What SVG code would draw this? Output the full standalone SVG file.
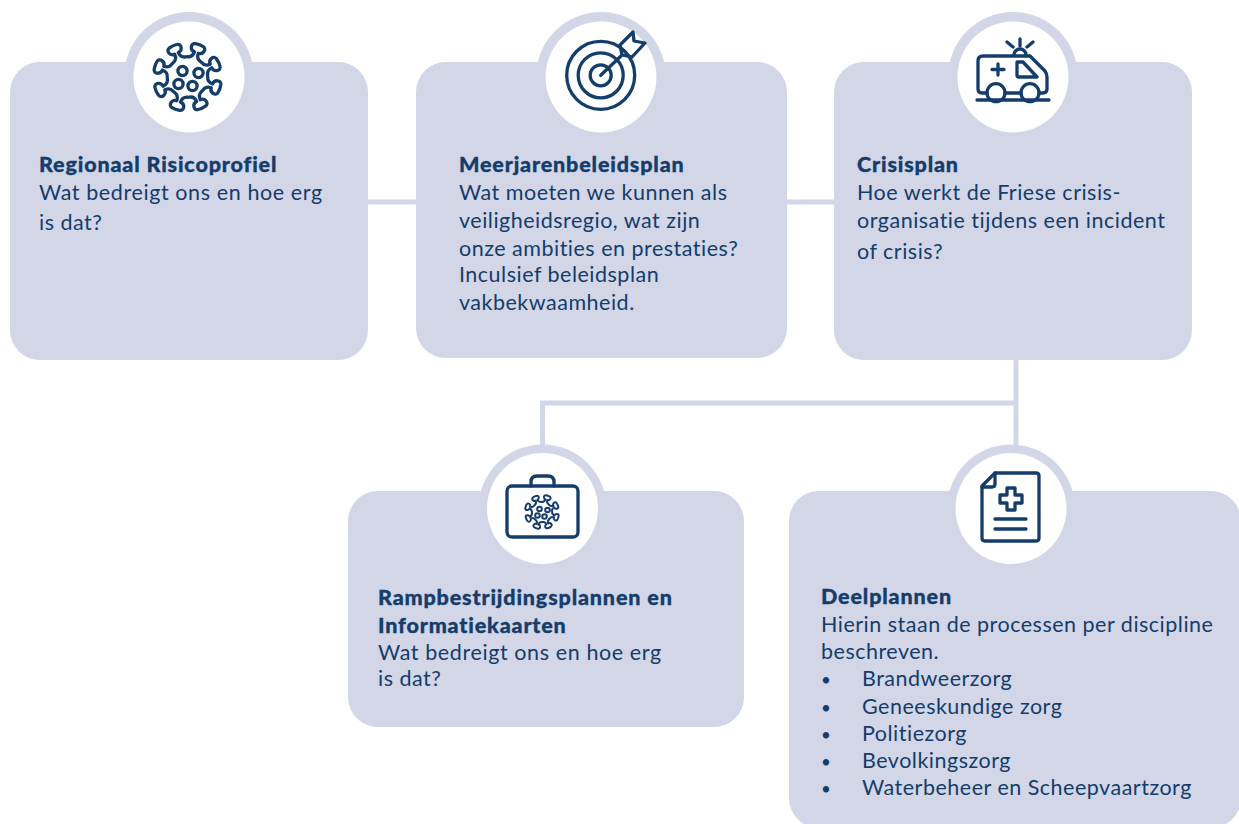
<svg xmlns="http://www.w3.org/2000/svg" xmlns:xlink="http://www.w3.org/1999/xlink" width="1239" height="824" viewBox="0 0 1239 824">
<style>
.box{fill:#d2d6e7}
.hole{fill:#fff}
.conn{fill:none;stroke:#d2d6e7;stroke-width:5}
.ic{fill:none;stroke:#143d6b;stroke-width:3.300;stroke-linecap:round;stroke-linejoin:round}
text{font-family:"Lato","Liberation Sans",sans-serif;font-size:21.5px;fill:#143d6b;letter-spacing:.5px}
.w{letter-spacing:.6px}
.h{font-weight:900;letter-spacing:.85px;stroke:#143d6b;stroke-width:.35px}
.b{font-size:17px}
</style>
<defs>
<g id="virus">
<path id="lobe" d="M-7-19C-3-20-2-23-2-26C-7-26-9-33-4-34C-1-34.500 2-34.500 4-34C9-33 7-26 2-26C2-23 3-20 7-19"/>
<use xlink:href="#lobe" href="#lobe" transform="rotate(45)"/>
<use xlink:href="#lobe" href="#lobe" transform="rotate(90)"/>
<use xlink:href="#lobe" href="#lobe" transform="rotate(135)"/>
<use xlink:href="#lobe" href="#lobe" transform="rotate(180)"/>
<use xlink:href="#lobe" href="#lobe" transform="rotate(225)"/>
<use xlink:href="#lobe" href="#lobe" transform="rotate(270)"/>
<use xlink:href="#lobe" href="#lobe" transform="rotate(315)"/>
<circle cx="-5" cy="-6" r="4.600" transform="rotate(-20)"/><circle cx="11" cy="-4" r="4.600" transform="rotate(-20)"/><circle cx="-9" cy="7" r="4.600" transform="rotate(-20)"/><circle cx="5" cy="9" r="4.600" transform="rotate(-20)"/>
</g>
</defs>
<g id="connectors">
<path class="conn" d="M368 202H834"/>
<path class="conn" d="M1016 360V450"/>
<path class="conn" d="M1016 403H542.500V450"/>
</g>
<g id="regionaal">
<rect class="box" x="10" y="62" width="358" height="298" rx="30"/>
<circle class="box" cx="189" cy="77" r="65"/>
<circle class="hole" cx="189" cy="77" r="55.500"/>
<g class="ic" transform="translate(187.500 77) rotate(20)"><use xlink:href="#virus" href="#virus"/></g>
<text class="h" x="39" y="172">Regionaal Risicoprofiel</text>
<text class="w" x="39" y="200">Wat bedreigt ons en hoe erg</text>
<text x="39" y="230">is dat?</text>
</g>
<g id="meerjaren">
<rect class="box" x="416" y="62" width="371" height="296" rx="30"/>
<circle class="box" cx="601" cy="77" r="65"/>
<circle class="hole" cx="601" cy="77" r="55.500"/>
<g class="ic">
<circle cx="600.700" cy="75.300" r="34"/><circle cx="600.700" cy="75.300" r="22.500"/><circle cx="600.700" cy="75.300" r="10.500"/>
<path d="M600.700 75.300L621 56"/>
<path d="M620 45L633 32L634 41L645 43L632 57L622 55Z"/>
</g>
<text class="h" x="459" y="172">Meerjarenbeleidsplan</text>
<text x="459" y="200">Wat moeten we kunnen als</text>
<text x="459" y="228">veiligheidsregio, wat zijn</text>
<text x="459" y="256">onze ambities en prestaties?</text>
<text x="459" y="282">Inculsief beleidsplan</text>
<text x="459" y="310">vakbekwaamheid.</text>
</g>
<g id="crisisplan">
<rect class="box" x="834" y="62" width="358" height="298" rx="30"/>
<circle class="box" cx="1013" cy="77" r="65"/>
<circle class="hole" cx="1013" cy="77" r="55.500"/>
<g class="ic">
<path d="M987 93H982Q978 93 978 89V61Q978 56 983 56H1030L1045 71Q1047 74 1047 77V89Q1047 93 1043 93H1039M1005 93H1021"/>
<circle cx="996" cy="92.700" r="9"/><circle cx="1030" cy="92.700" r="9"/>
<path d="M977 100H1049"/>
<path d="M1017 62H1023L1037 77H1019Q1017 77 1017 75Z"/>
<path d="M998 64V75M992 69.500H1004"/>
<path d="M1014 55A6 6 0 0 1 1026 55"/>
<path d="M1020 39V46M1007 42L1013 47M1033 42L1027 47"/>
</g>
<text class="h" x="857" y="172">Crisisplan</text>
<text x="857" y="200">Hoe werkt de Friese crisis-</text>
<text x="857" y="228">organisatie tijdens een incident</text>
<text x="857" y="259">of crisis?</text>
</g>
<g id="rampbestrijding">
<rect class="box" x="348" y="491" width="396" height="236" rx="30"/>
<circle class="box" cx="542.500" cy="508.500" r="64"/>
<circle class="hole" cx="542.500" cy="508.500" r="55.500"/>
<g class="ic">
<rect x="507" y="486" width="71" height="51" rx="5"/>
<path d="M531 486V482Q531 476 537 476H548Q554 476 554 482V486"/>
</g>
<g class="ic" transform="translate(542 512) rotate(20) scale(.5)" style="stroke-width:4"><use xlink:href="#virus" href="#virus"/></g>
<text class="h" x="378" y="605">Rampbestrijdingsplannen en</text>
<text class="h" x="378" y="633">Informatiekaarten</text>
<text class="w" x="378" y="660">Wat bedreigt ons en hoe erg</text>
<text x="378" y="686">is dat?</text>
</g>
<g id="deelplannen">
<rect class="box" x="789" y="491" width="452" height="337" rx="30"/>
<circle class="box" cx="1011" cy="508.500" r="64"/>
<circle class="hole" cx="1011" cy="508.500" r="55.500"/>
<g class="ic">
<path d="M995 473H1036Q1039 473 1039 476V538Q1039 541 1036 541H985Q982 541 982 538V486Z"/>
<path d="M995 473V484Q995 487 992 487H982"/>
<path d="M1007 488H1015V495H1022V503H1015V510H1007V503H1000V495H1007Z"/>
<path d="M995 519H1026M995 529H1026"/>
</g>
<text class="h" x="821" y="604">Deelplannen</text>
<text x="821" y="632">Hierin staan de processen per discipline</text>
<text x="821" y="659">beschreven.</text>
<text class="b" x="821" y="686">•</text><text x="862" y="686">Brandweerzorg</text>
<text class="b" x="821" y="714">•</text><text x="862" y="714">Geneeskundige zorg</text>
<text class="b" x="821" y="741">•</text><text x="862" y="741">Politiezorg</text>
<text class="b" x="821" y="768">•</text><text x="862" y="768">Bevolkingszorg</text>
<text class="b" x="821" y="795">•</text><text x="862" y="795">Waterbeheer en Scheepvaartzorg</text>
</g>
</svg>
